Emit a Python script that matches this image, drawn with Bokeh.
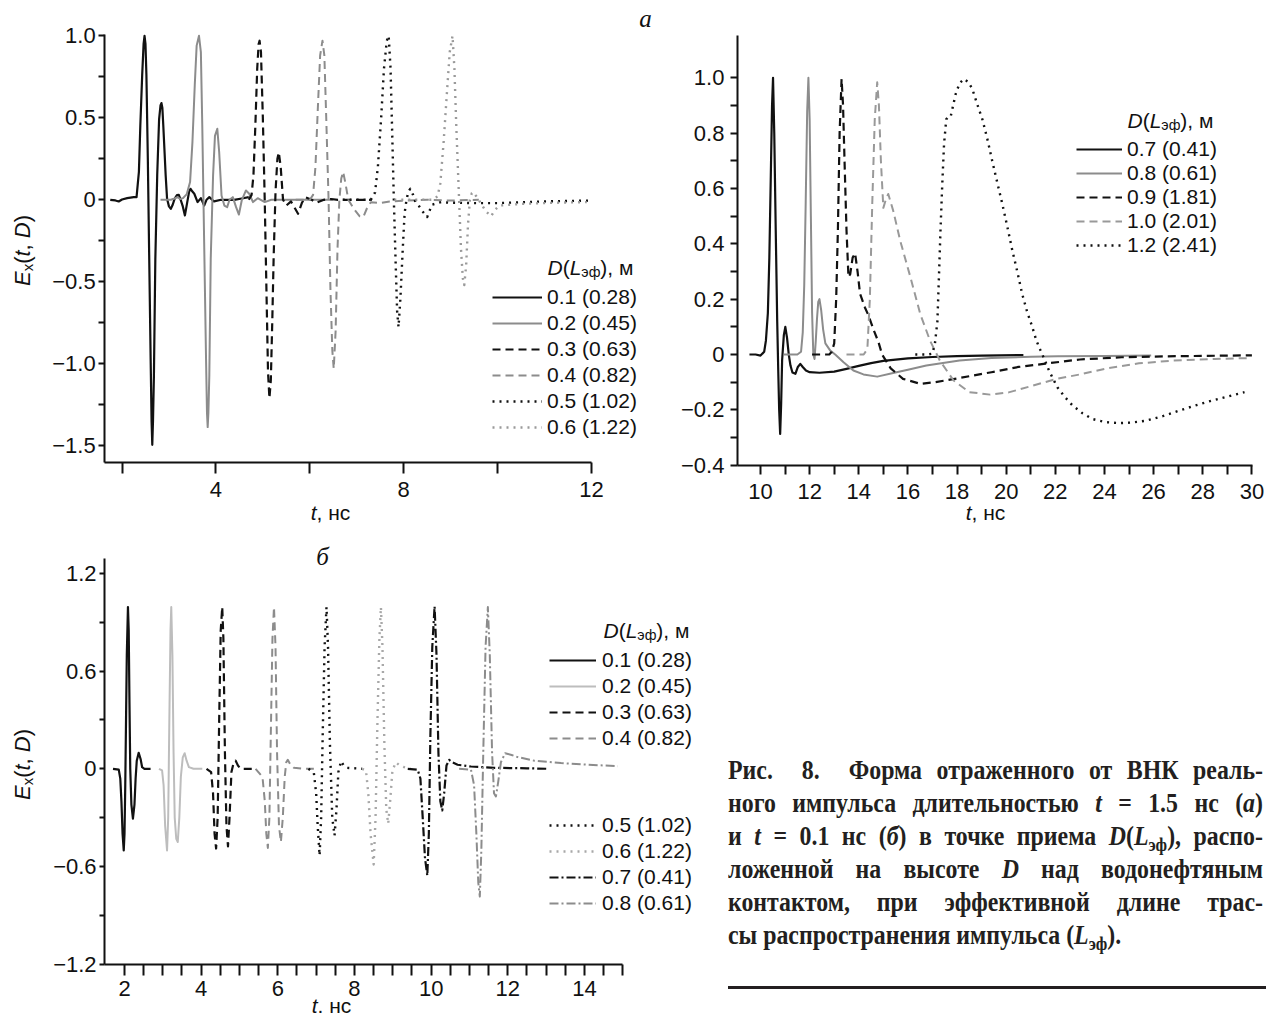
import math
import re
import subprocess
from bokeh.plotting import figure
from bokeh.models import (Label, Legend, LegendItem, FixedTicker, CustomJSTickFormatter,
                          Range1d, Div)
from bokeh.layouts import row, column
from bokeh.embed import file_html
from bokeh.resources import INLINE

# ------------------------------------------------------------------ data
# Panel "а" (left): t, ns  ->  E_x(t, D)
a_left_labels = ["0.1 (0.28)", "0.2 (0.45)", "0.3 (0.63)", "0.4 (0.82)", "0.5 (1.02)", "0.6 (1.22)"]
al_01 = [(1.75,0.0),(1.86,-0.004),(1.93,-0.01),(2.0,0.002),(2.11,0.01),(2.25,0.016),(2.31,0.016),(2.36,0.17),
         (2.39,0.45),(2.43,0.76),(2.46,0.95),(2.48,1.0),(2.50,0.95),(2.52,0.76),(2.55,0.25),(2.58,-0.36),
         (2.61,-0.97),(2.63,-1.35),(2.645,-1.494),(2.66,-1.35),(2.68,-1.07),(2.71,-0.36),(2.75,0.15),(2.79,0.49),
         (2.82,0.575),(2.84,0.59),(2.86,0.56),(2.88,0.45),(2.93,0.15),(2.96,0.006),(3.0,-0.04),(3.04,-0.055),
         (3.08,-0.03),(3.12,0.006),(3.17,0.028),(3.21,0.03),(3.25,0.0),(3.29,-0.035),(3.34,-0.095),(3.39,-0.014),
         (3.43,0.05),(3.46,0.067),(3.5,0.05),(3.54,0.037),(3.61,-0.014),(3.68,0.01),(3.75,-0.035),(3.8,0.0),
         (3.86,0.016),(3.96,-0.01),(4.11,0.0),(4.39,0.0),(4.55,0.008),(4.7,0.016)]
al_02 = [(2.82,0.0),(3.04,0.0),(3.12,0.008),(3.18,0.016),(3.24,0.005),(3.3,0.01),(3.38,0.035),(3.45,0.108),
         (3.5,0.35),(3.55,0.7),(3.59,0.94),(3.64,1.0),(3.68,0.9),(3.71,0.45),(3.75,-0.26),(3.79,-0.97),
         (3.81,-1.3),(3.825,-1.386),(3.84,-1.3),(3.86,-1.07),(3.89,-0.36),(3.94,0.15),(3.98,0.39),(4.03,0.433),
         (4.07,0.29),(4.12,0.026),(4.18,-0.035),(4.24,-0.045),(4.29,0.0),(4.36,0.016),(4.43,-0.045),(4.49,-0.09),
         (4.55,-0.004),(4.64,0.057),(4.71,0.037),(4.79,-0.014),(4.89,0.01),(5.04,-0.014),(5.18,0.0),(5.5,0.0),
         (6.0,0.0),(6.5,0.0)]
al_03 = [(4.7,0.0),(4.76,0.03),(4.8,0.15),(4.84,0.45),(4.88,0.8),(4.91,0.95),(4.93,0.97),(4.96,0.9),(5.0,0.5),
         (5.04,0.0),(5.08,-0.6),(5.11,-1.05),(5.14,-1.21),(5.17,-1.1),(5.2,-0.75),(5.23,-0.35),(5.27,0.05),
         (5.31,0.25),(5.34,0.29),(5.38,0.2),(5.43,0.0),(5.5,-0.035),(5.6,-0.01),(5.68,-0.05),(5.75,-0.085),
         (5.83,-0.02),(5.9,0.016),(6.04,0.0),(6.14,-0.018),(6.3,0.0),(6.45,0.005),(6.6,0.0),(7.0,0.0),(7.3,0.0)]
al_04 = [(5.7,0.0),(6.0,0.0),(6.07,0.03),(6.12,0.2),(6.17,0.55),(6.22,0.88),(6.27,0.97),(6.31,0.88),(6.35,0.5),
         (6.4,0.0),(6.44,-0.55),(6.48,-0.92),(6.51,-1.03),(6.55,-0.8),(6.59,-0.3),(6.63,0.0),(6.67,0.13),
         (6.71,0.17),(6.76,0.1),(6.82,0.0),(6.95,-0.06),(7.06,-0.1),(7.14,-0.105),(7.22,-0.05),(7.3,-0.015),
         (7.5,-0.02),(7.7,-0.01),(8.0,-0.005),(8.5,0.0),(9.0,-0.005),(9.6,0.0)]
al_05 = [(6.7,0.0),(7.0,0.0),(7.3,0.0),(7.39,0.045),(7.45,0.2),(7.52,0.5),(7.58,0.8),(7.64,0.97),(7.68,1.0),
         (7.72,0.8),(7.76,0.35),(7.79,0.0),(7.83,-0.4),(7.86,-0.68),(7.89,-0.776),(7.93,-0.6),(7.98,-0.3),
         (8.02,-0.08),(8.06,0.0),(8.1,0.05),(8.14,0.067),(8.2,0.03),(8.25,-0.014),(8.32,-0.035),(8.4,-0.07),
         (8.5,-0.105),(8.6,-0.03),(8.8,-0.014),(9.0,-0.018),(9.5,-0.02),(10.0,-0.02),(10.5,-0.015),(11.0,-0.01),
         (11.5,-0.007),(12.0,-0.005)]
al_06 = [(7.8,0.0),(8.3,0.0),(8.6,0.0),(8.72,0.02),(8.78,0.1),(8.85,0.35),(8.92,0.65),(8.98,0.9),(9.04,1.0),
         (9.08,0.8),(9.12,0.45),(9.18,0.0),(9.22,-0.3),(9.26,-0.48),(9.29,-0.52),(9.33,-0.4),(9.37,-0.15),
         (9.41,0.0),(9.45,0.04),(9.48,0.047),(9.55,0.02),(9.64,-0.02),(9.75,-0.07),(9.86,-0.1),(9.95,-0.06),
         (10.04,-0.035),(10.5,-0.025),(11.0,-0.02),(11.5,-0.016),(11.9,-0.014)]

# Panel "а" (right)
a_right_labels = ["0.7 (0.41)", "0.8 (0.61)", "0.9 (1.81)", "1.0 (2.01)", "1.2 (2.41)"]
ar_07 = [(9.55,0.0),(9.8,0.0),(10.0,-0.004),(10.15,0.01),(10.22,0.05),(10.3,0.15),(10.36,0.35),(10.42,0.65),
         (10.47,0.9),(10.51,1.0),(10.56,0.8),(10.62,0.45),(10.68,0.12),(10.72,-0.05),(10.76,-0.2),(10.8,-0.287),
         (10.84,-0.18),(10.88,-0.02),(10.95,0.07),(11.01,0.1),(11.08,0.06),(11.15,0.0),(11.22,-0.04),(11.3,-0.065),
         (11.42,-0.07),(11.52,-0.045),(11.62,-0.034),(11.72,-0.045),(11.85,-0.058),(12.0,-0.064),(12.4,-0.066),
         (13.0,-0.062),(13.5,-0.052),(14.0,-0.041),(14.5,-0.031),(15.0,-0.023),(16.0,-0.014),(17.0,-0.009),
         (18.0,-0.006),(19.0,-0.004),(20.7,-0.002)]
ar_08 = [(10.95,0.0),(11.5,0.0),(11.65,0.01),(11.72,0.08),(11.78,0.25),(11.84,0.55),(11.9,0.88),(11.95,1.0),
         (12.0,0.85),(12.05,0.5),(12.1,0.15),(12.15,0.0),(12.2,-0.016),(12.25,0.05),(12.3,0.13),(12.35,0.19),
         (12.4,0.2),(12.47,0.16),(12.55,0.09),(12.64,0.04),(12.84,0.014),(13.04,0.0),(13.38,-0.028),(13.78,-0.058),
         (14.19,-0.072),(14.75,-0.08),(15.4,-0.067),(16.0,-0.055),(16.75,-0.04),(18.1,-0.022),(19.4,-0.013),
         (21.0,-0.008),(22.1,-0.006),(24.0,-0.005),(25.9,-0.004)]
ar_09 = [(12.1,0.0),(12.8,0.0),(12.9,0.01),(13.0,0.04),(13.08,0.2),(13.15,0.45),(13.22,0.8),(13.3,0.996),
         (13.36,0.9),(13.42,0.7),(13.5,0.45),(13.58,0.28),(13.65,0.29),(13.75,0.35),(13.85,0.366),(13.95,0.3),
         (14.05,0.22),(14.25,0.17),(14.4,0.14),(14.6,0.09),(14.8,0.045),(14.95,0.0),(15.3,-0.05),(15.8,-0.088),
         (16.5,-0.106),(17.1,-0.1),(18.1,-0.085),(19.4,-0.064),(20.5,-0.045),(21.6,-0.033),(23.0,-0.018),
         (24.7,-0.01),(27.0,-0.006),(30.0,-0.003)]
ar_10 = [(13.5,0.0),(14.2,0.0),(14.35,0.02),(14.45,0.2),(14.55,0.55),(14.65,0.85),(14.75,0.984),(14.82,0.9),
         (14.9,0.7),(15.0,0.53),(15.1,0.56),(15.2,0.58),(15.4,0.52),(15.69,0.41),(16.1,0.28),(16.5,0.147),
         (16.9,0.05),(17.3,-0.022),(17.86,-0.094),(18.5,-0.136),(19.35,-0.145),(20.1,-0.137),(21.1,-0.112),
         (22.06,-0.088),(23.0,-0.072),(24.1,-0.05),(25.4,-0.032),(26.8,-0.022),(28.5,-0.016),(29.9,-0.013)]
ar_12 = [(16.3,0.0),(16.8,0.0),(17.0,0.003),(17.1,0.04),(17.2,0.12),(17.27,0.3),(17.33,0.46),(17.4,0.62),
         (17.47,0.76),(17.56,0.85),(17.65,0.86),(17.74,0.86),(17.84,0.9),(17.94,0.94),(18.1,0.98),(18.28,0.996),
         (18.45,0.985),(18.62,0.96),(18.8,0.91),(19.03,0.85),(19.23,0.78),(19.43,0.70),(19.64,0.62),(19.84,0.545),
         (20.05,0.46),(20.25,0.376),(20.45,0.3),(20.65,0.219),(20.85,0.155),(21.06,0.1),(21.23,0.05),(21.4,0.014),
         (21.57,-0.02),(21.74,-0.058),(22.08,-0.118),(22.4,-0.155),(22.7,-0.184),(23.1,-0.212),(23.5,-0.233),
         (24.0,-0.244),(24.6,-0.248),(25.1,-0.246),(25.7,-0.239),(26.4,-0.222),(27.07,-0.202),(27.7,-0.184),
         (28.4,-0.166),(29.0,-0.152),(29.7,-0.136)]

# Panel "б"
b_labels = ["0.1 (0.28)", "0.2 (0.45)", "0.3 (0.63)", "0.4 (0.82)",
            "0.5 (1.02)", "0.6 (1.22)", "0.7 (0.41)", "0.8 (0.61)"]
b_01 = [(1.7,0.0),(1.85,-0.005),(1.89,-0.06),(1.92,-0.2),(1.95,-0.4),(1.98,-0.502),(2.0,-0.4),(2.02,-0.1),
        (2.04,0.3),(2.06,0.7),(2.09,0.994),(2.11,0.85),(2.13,0.4),(2.15,0.0),(2.18,-0.22),(2.22,-0.307),
        (2.26,-0.22),(2.29,-0.06),(2.32,0.05),(2.37,0.098),(2.42,0.06),(2.46,0.01),(2.52,0.0),(2.68,0.0)]
b_02 = [(2.9,0.0),(2.98,-0.01),(3.02,-0.1),(3.06,-0.35),(3.11,-0.502),(3.14,-0.3),(3.17,0.3),(3.2,0.85),
        (3.22,0.994),(3.25,0.7),(3.28,0.1),(3.31,-0.3),(3.35,-0.43),(3.39,-0.45),(3.43,-0.3),(3.47,-0.05),
        (3.52,0.07),(3.57,0.096),(3.62,0.05),(3.68,0.01),(3.8,0.0),(4.03,0.0)]
b_03 = [(4.14,0.0),(4.26,-0.02),(4.31,-0.15),(4.35,-0.4),(4.39,-0.49),(4.43,-0.3),(4.47,0.3),(4.51,0.85),
        (4.55,0.994),(4.58,0.8),(4.62,0.1),(4.66,-0.35),(4.7,-0.477),(4.74,-0.3),(4.79,-0.02),(4.85,0.04),
        (4.9,0.05),(4.96,0.02),(5.03,0.0),(5.39,0.0)]
b_04 = [(5.42,0.0),(5.6,-0.05),(5.66,-0.2),(5.7,-0.4),(5.74,-0.486),(5.78,-0.3),(5.82,0.25),(5.86,0.8),
        (5.9,0.994),(5.94,0.75),(5.98,0.1),(6.03,-0.35),(6.08,-0.45),(6.13,-0.3),(6.18,-0.05),(6.22,0.04),
        (6.26,0.055),(6.32,0.03),(6.42,0.006),(6.68,0.0),(6.94,0.0)]
b_05 = [(6.8,0.0),(6.94,-0.025),(7.0,-0.15),(7.04,-0.35),(7.09,-0.533),(7.13,-0.3),(7.17,0.2),(7.22,0.75),
        (7.27,0.994),(7.31,0.75),(7.36,0.15),(7.42,-0.3),(7.48,-0.41),(7.53,-0.25),(7.58,-0.02),(7.65,0.047),
        (7.72,0.02),(7.81,0.006),(8.2,0.0)]
b_06 = [(8.2,0.0),(8.3,-0.01),(8.36,-0.15),(8.42,-0.4),(8.5,-0.588),(8.55,-0.3),(8.6,0.3),(8.65,0.8),
        (8.69,0.994),(8.73,0.75),(8.78,0.15),(8.83,-0.25),(8.88,-0.338),(8.93,-0.2),(8.99,-0.01),(9.08,0.04),
        (9.18,0.02),(9.3,0.01),(9.47,0.0)]
b_07 = [(9.39,0.0),(9.65,-0.006),(9.72,-0.06),(9.78,-0.3),(9.84,-0.55),(9.9,-0.656),(9.94,-0.4),(9.98,0.2),
        (10.03,0.75),(10.09,0.998),(10.14,0.7),(10.19,0.1),(10.24,-0.2),(10.29,-0.256),(10.34,-0.15),
        (10.4,0.02),(10.47,0.055),(10.55,0.04),(10.69,0.025),(11.04,0.014),(11.65,0.006),(12.5,0.003),(13.08,0.0)]
b_08 = [(10.73,0.0),(11.04,-0.006),(11.12,-0.1),(11.18,-0.4),(11.23,-0.7),(11.27,-0.785),(11.31,-0.5),
        (11.36,0.1),(11.42,0.75),(11.48,0.994),(11.53,0.7),(11.59,0.1),(11.64,-0.15),(11.69,-0.17),
        (11.75,-0.08),(11.82,0.04),(11.93,0.096),(12.1,0.085),(12.26,0.072),(12.69,0.05),(13.39,0.035),
        (14.08,0.025),(14.87,0.016)]

# tick values
al_xticks, al_xminor = [4, 8, 12], [2, 6, 10]
al_yticks, al_yminor = [-1.5, -1.0, -0.5, 0.0, 0.5, 1.0], [-1.25, -0.75, -0.25, 0.25, 0.75]
ar_xticks, ar_xminor = [10, 12, 14, 16, 18, 20, 22, 24, 26, 28, 30], [11, 13, 15, 17, 19, 21, 23, 25, 27, 29]
ar_yticks = [-0.4, -0.2, 0.0, 0.2, 0.4, 0.6, 0.8, 1.0]
ar_yminor = [-0.3, -0.1, 0.1, 0.3, 0.5, 0.7, 0.9]
b_xticks = [2, 4, 6, 8, 10, 12, 14]
b_xminor = [2.5, 3, 3.5, 4.5, 5, 5.5, 6.5, 7, 7.5, 8.5, 9, 9.5, 10.5, 11, 11.5, 12.5, 13, 13.5, 14.5, 15]
b_yticks, b_yminor = [-1.2, -0.6, 0.0, 0.6, 1.2], [-0.9, -0.3, 0.3, 0.9]

caption_lines = [
    "Рис.&nbsp; 8.&nbsp; Форма отраженного от ВНК реаль-",
    "ного импульса длительностью <i>t</i> = 1.5 нс (<i>а</i>)",
    "и <i>t</i> = 0.1 нс (<i>б</i>) в точке приема <i>D</i>(<i>L</i><sub>эф</sub>), распо-",
    "ложенной на высоте <i>D</i> над водонефтяным",
    "контактом, при эффективной длине трас-",
    "сы распространения импульса (<i>L</i><sub>эф</sub>).",
]

# ------------------------------------------------------------------ helpers
SANS = "Liberation Sans"
SERIF = "Liberation Serif"
_FONTS = {}


def _font(family, style):
    key = (family, style)
    if key in _FONTS:
        return _FONTS[key]
    st = {"normal": "Regular", "italic": "Italic", "bold": "Bold", "bold italic": "Bold Italic"}[style]
    f = None
    try:
        from PIL import ImageFont
        path = subprocess.run(["fc-match", "-f", "%{file}", f"{family}:style={st}"],
                              capture_output=True, text=True, timeout=10).stdout.strip()
        if path:
            f = ImageFont.truetype(path, 200)
    except Exception:
        f = None
    _FONTS[key] = f
    return f


def tw(s, family, size, style="normal"):
    f = _font(family, style)
    if f is not None:
        try:
            return f.getlength(s) * size / 200.0
        except Exception:
            pass
    return 0.55 * size * len(s)


def rich(p, pieces, x, y, size, family=SANS, vertical=False, anchor="left", color="#111111"):
    """Multi-style text built from Labels; (x, y) = canvas pixels of the text line's middle."""
    ws = [tw(t, family, size * sc, st) for (t, st, sc, dy) in pieces]
    pos = -sum(ws) / 2 if anchor == "center" else 0.0
    for (t, st, sc, dy), w in zip(pieces, ws):
        if vertical:
            lx, ly, ang = x + dy * size, y - pos, math.pi / 2
        else:
            lx, ly, ang = x + pos, y + dy * size, 0.0
        p.add_layout(Label(x=lx, y=ly, x_units="canvas", y_units="canvas", text=t, angle=ang,
                           text_font=family, text_font_size=f"{size * sc:.1f}px", text_font_style=st,
                           text_color=color, text_align="left", text_baseline="middle"))
        pos += w


yfmt_code = """
if (Math.abs(tick) < 1e-9) { return "0"; }
return (tick < 0 ? "\u2212" : "") + Math.abs(tick).toFixed(1);
"""


def make_fig(w, h, px2x, px2y):
    # the frame fills the whole canvas; axes are pinned with fixed_location
    p = figure(x_range=Range1d(px2x(0), px2x(w)), y_range=Range1d(px2y(h), px2y(0)),
               frame_width=w, frame_height=h, min_border=0,
               min_border_left=0, min_border_right=0, min_border_top=0, min_border_bottom=0,
               output_backend="svg", toolbar_location=None, tools="")
    p.outline_line_color = None
    p.grid.visible = False
    p.background_fill_color = "white"
    p.border_fill_color = "white"
    return p


def style_axes(p, xb, yb, xt, xm, yt, ym, xout, yout, xstand, ystand):
    xa, ya = p.xaxis[0], p.yaxis[0]
    xa.fixed_location = yb[0]
    xa.bounds = xb
    ya.fixed_location = xb[0]
    ya.bounds = yb
    xa.ticker = FixedTicker(ticks=xt, minor_ticks=xm)
    ya.ticker = FixedTicker(ticks=yt, minor_ticks=ym)
    ya.formatter = CustomJSTickFormatter(code=yfmt_code)
    for ax, out, stand in ((xa, xout, xstand), (ya, yout, ystand)):
        ax.axis_line_width = 2
        ax.axis_line_color = "#111111"
        ax.major_tick_line_width = 2
        ax.minor_tick_line_width = 2
        ax.major_tick_line_color = "#111111"
        ax.minor_tick_line_color = "#111111"
        ax.major_tick_in = 0
        ax.minor_tick_in = 0
        ax.major_tick_out = out
        ax.minor_tick_out = out
        ax.major_label_standoff = stand
        ax.major_label_text_font = SANS
        ax.major_label_text_font_size = "22px"
        ax.major_label_text_color = "#111111"


def add_lines(p, series, styles):
    rs = []
    for pts, (color, width, dash) in zip(series, styles):
        r = p.line([q[0] for q in pts], [q[1] for q in pts], line_color=color, line_width=width,
                   line_dash=dash, line_join="round")
        rs.append(r)
    return rs


def add_legend(p, renderers, labels, loc, lh, gw, standoff):
    items = [LegendItem(label=l, renderers=[r]) for l, r in zip(labels, renderers)]
    lg = Legend(items=items, location=loc, orientation="vertical", padding=0, margin=0, spacing=0,
                label_height=lh, glyph_height=lh, glyph_width=gw, label_standoff=standoff,
                label_text_font=SANS, label_text_font_size="21px", label_text_color="#111111",
                border_line_alpha=0, background_fill_alpha=0)
    p.add_layout(lg)
    return lg


SOLID, DASH, DOT, DASHDOT = "solid", "8 5", "2 5", "9 3 2 3"
TITLE_PIECES = [("D", "italic", 1.0, 0.0), ("(", "normal", 1.0, 0.0), ("L", "italic", 1.0, 0.0),
                ("эф", "normal", 0.68, 0.22), ("), м", "normal", 1.0, 0.0)]
YLAB_PIECES = [("E", "italic", 1.0, 0.0), ("x", "normal", 0.68, 0.22), ("(", "normal", 1.0, 0.0),
               ("t", "italic", 1.0, 0.0), (", ", "normal", 1.0, 0.0), ("D", "italic", 1.0, 0.0),
               (")", "normal", 1.0, 0.0)]

# ------------------------------------------------------------------ panel а (left)  canvas 652 x 528
pa = make_fig(652, 528, lambda px: 2 + (px - 121.5) / 46.95, lambda py: (199.3 - py) / 164.0)
style_axes(pa, (1.63, 12.0), (-1.602, 1.005), al_xticks, al_xminor, al_yticks, al_yminor, 11, 6, 8, 3)
ra = add_lines(pa, [al_01, al_02, al_03, al_04, al_05, al_06],
               [("#111111", 2.2, SOLID), ("#8c8c8c", 2.0, SOLID), ("#111111", 2.2, DASH),
                ("#8c8c8c", 2.0, DASH), ("#111111", 2.4, DOT), ("#9a9a9a", 2.4, DOT)])
add_legend(pa, ra, a_left_labels, (492, 88), 26, 50, 5)
rich(pa, TITLE_PIECES, 547, 267, 21)
rich(pa, YLAB_PIECES, 22, 250, 22, vertical=True, anchor="center")
rich(pa, [("t", "italic", 1.0, 0.0), (", нс", "normal", 1.0, 0.0)], 330, 512, 21, anchor="center")
pa.add_layout(Label(x=645, y=18, x_units="canvas", y_units="canvas", text="а", text_font=SERIF,
                    text_font_style="italic", text_font_size="25px", text_align="center",
                    text_baseline="middle", text_color="#111111"))

# ------------------------------------------------------------------ panel а (right) canvas 613 x 528 at x=652
pb = make_fig(613, 528, lambda px: 10 + (px + 652 - 760) / 24.57, lambda py: (354.0 - py) / 276.7)
style_axes(pb, (9.06, 30.04), (-0.4, 1.153), ar_xticks, ar_xminor, ar_yticks, ar_yminor, 9, 7, 10, 6)
rb = add_lines(pb, [ar_07, ar_08, ar_09, ar_10, ar_12],
               [("#111111", 2.2, SOLID), ("#8c8c8c", 2.0, SOLID), ("#111111", 2.2, DASH),
                ("#999999", 2.0, DASH), ("#111111", 2.4, DOT)])
add_legend(pb, rb, a_right_labels, (424, 271), 24, 46, 5)
rich(pb, TITLE_PIECES, 475, 120, 21)
rich(pb, [("t", "italic", 1.0, 0.0), (", нс", "normal", 1.0, 0.0)], 333, 512, 21, anchor="center")

# ------------------------------------------------------------------ panel б  canvas 715 x 490 at y=528
pc = make_fig(715, 490, lambda px: 2 + (px - 124) / 38.33, lambda py: (768.3 - (py + 528)) / 162.7)
style_axes(pc, (1.48, 15.0), (-1.2, 1.293), b_xticks, b_xminor, b_yticks, b_yminor, 11, 5, 6, 3)
rc = add_lines(pc, [b_01, b_02, b_03, b_04, b_05, b_06, b_07, b_08],
               [("#111111", 2.2, SOLID), ("#bdbdbd", 2.0, SOLID), ("#111111", 2.2, DASH),
                ("#8c8c8c", 2.0, DASH), ("#111111", 2.4, DOT), ("#a8a8a8", 2.4, DOT),
                ("#111111", 2.2, DASHDOT), ("#8c8c8c", 2.0, DASHDOT)])
add_legend(pc, rc[:4], b_labels[:4], (549, 267), 26, 47, 6)
add_legend(pc, rc[4:], b_labels[4:], (549, 102), 26, 47, 6)
rich(pc, TITLE_PIECES, 603, 102, 21)
rich(pc, YLAB_PIECES, 22, 236, 22, vertical=True, anchor="center")
rich(pc, [("t", "italic", 1.0, 0.0), (". нс", "normal", 1.0, 0.0)], 331, 477, 21, anchor="center")
pc.add_layout(Label(x=322, y=28, x_units="canvas", y_units="canvas", text="б", text_font=SERIF,
                    text_font_style="italic", text_font_size="25px", text_align="center",
                    text_baseline="middle", text_color="#111111"))

# ------------------------------------------------------------------ caption
SC = 0.9
TEXT_W = 535.0
inner_w = TEXT_W / SC
fs = 26.5
inner = "".join(
    f'<div style="white-space:nowrap;text-align:justify;'
    f'text-align-last:{"justify" if i < 5 else "left"};">{l}</div>'
    for i, l in enumerate(caption_lines))
inner = inner.replace("<sub>", '<sub style="font-size:0.7em;vertical-align:-0.3em;line-height:0;">')
html = (f'<div style="margin:221px 0 0 8px;width:{TEXT_W:.0f}px;">'
        f'<div style="width:{inner_w:.1f}px;transform:scaleX({SC});transform-origin:0 0;'
        f'font-family:\'{SERIF}\',serif;font-weight:bold;font-size:{fs:.2f}px;line-height:33px;'
        f'color:#231f20;">{inner}</div>'
        f'<div style="border-top:3px solid #231f20;margin-top:34px;width:538px;"></div></div>')
div = Div(text=html, width=550, height=490)

layout = column(row(pa, pb), row(pc, div))
open("out.html", "w").write(file_html(layout, INLINE))
